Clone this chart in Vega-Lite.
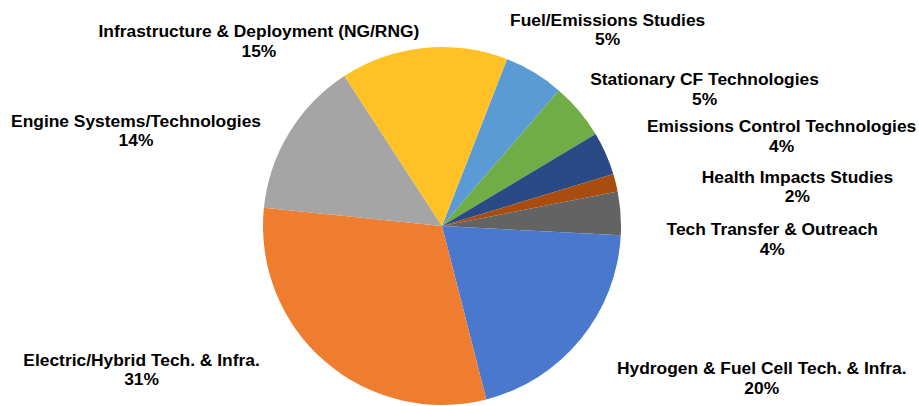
{
  "$schema": "https://vega.github.io/schema/vega-lite/v6.json",
  "autosize": {"type": "none"},
  "width": 884,
  "height": 360,
  "padding": {"left": 0, "top": 46, "right": 35, "bottom": 0},
  "background": "white",
  "view": {"stroke": null},
  "data": {
    "values": [
      {"rank": 1, "category": "Fuel/Emissions Studies", "share": 5.4, "label": "Fuel/Emissions Studies\n5%"},
      {"rank": 2, "category": "Stationary CF Technologies", "share": 5.1, "label": "Stationary CF Technologies\n5%"},
      {"rank": 3, "category": "Emissions Control Technologies", "share": 3.9, "label": "Emissions Control Technologies\n4%"},
      {"rank": 4, "category": "Health Impacts Studies", "share": 1.6, "label": "Health Impacts Studies\n2%"},
      {"rank": 5, "category": "Tech Transfer & Outreach", "share": 3.9, "label": "Tech Transfer & Outreach\n4%"},
      {"rank": 6, "category": "Hydrogen & Fuel Cell Tech. & Infra.", "share": 20.2, "label": "Hydrogen & Fuel Cell Tech. & Infra.\n20%"},
      {"rank": 7, "category": "Electric/Hybrid Tech. & Infra.", "share": 30.6, "label": "Electric/Hybrid Tech. & Infra.\n31%"},
      {"rank": 8, "category": "Engine Systems/Technologies", "share": 14.2, "label": "Engine Systems/Technologies\n14%"},
      {"rank": 9, "category": "Infrastructure & Deployment (NG/RNG)", "share": 15.1, "label": "Infrastructure & Deployment (NG/RNG)\n15%"}
    ]
  },
  "transform": [
    {"stack": "share", "groupby": [], "sort": [{"field": "rank", "order": "ascending"}], "as": ["s0", "s1"]}
  ],
  "encoding": {
    "theta": {"field": "s0", "type": "quantitative", "scale": {"domain": [0, 100], "range": [0.37175, 6.65494]}}
  },
  "layer": [
    {
      "mark": {"type": "arc", "outerRadius": 179},
      "encoding": {
        "theta2": {"field": "s1"},
        "color": {
          "field": "category",
          "type": "nominal",
          "legend": null,
          "scale": {
            "domain": ["Fuel/Emissions Studies", "Stationary CF Technologies", "Emissions Control Technologies", "Health Impacts Studies", "Tech Transfer & Outreach", "Hydrogen & Fuel Cell Tech. & Infra.", "Electric/Hybrid Tech. & Infra.", "Engine Systems/Technologies", "Infrastructure & Deployment (NG/RNG)"],
            "range": ["#5B9BD5", "#70AD47", "#2A4A86", "#A84C10", "#636363", "#4A78CC", "#EF7D30", "#A5A5A5", "#FFC125"]
          }
        }
      }
    },
    {"transform": [{"filter": "datum.rank == 1"}], "mark": {"type": "text", "radius": 200, "dx": 93, "dy": -14, "font": "Liberation Sans", "fontWeight": "bold", "fontSize": 17.4, "lineHeight": 19.5, "lineBreak": "\n", "align": "center", "baseline": "alphabetic", "color": "#000000"}, "encoding": {"text": {"field": "label", "type": "nominal"}}},
    {"transform": [{"filter": "datum.rank == 2"}], "mark": {"type": "text", "radius": 200, "dx": 132, "dy": 11, "font": "Liberation Sans", "fontWeight": "bold", "fontSize": 17.4, "lineHeight": 19.5, "lineBreak": "\n", "align": "center", "baseline": "alphabetic", "color": "#000000"}, "encoding": {"text": {"field": "label", "type": "nominal"}}},
    {"transform": [{"filter": "datum.rank == 3"}], "mark": {"type": "text", "radius": 200, "dx": 168, "dy": 9, "font": "Liberation Sans", "fontWeight": "bold", "fontSize": 17.4, "lineHeight": 19.5, "lineBreak": "\n", "align": "center", "baseline": "alphabetic", "color": "#000000"}, "encoding": {"text": {"field": "label", "type": "nominal"}}},
    {"transform": [{"filter": "datum.rank == 4"}], "mark": {"type": "text", "radius": 200, "dx": 164, "dy": 15, "font": "Liberation Sans", "fontWeight": "bold", "fontSize": 17.4, "lineHeight": 19.5, "lineBreak": "\n", "align": "center", "baseline": "alphabetic", "color": "#000000"}, "encoding": {"text": {"field": "label", "type": "nominal"}}},
    {"transform": [{"filter": "datum.rank == 5"}], "mark": {"type": "text", "radius": 200, "dx": 134, "dy": 48, "font": "Liberation Sans", "fontWeight": "bold", "fontSize": 17.4, "lineHeight": 19.5, "lineBreak": "\n", "align": "center", "baseline": "alphabetic", "color": "#000000"}, "encoding": {"text": {"field": "label", "type": "nominal"}}},
    {"transform": [{"filter": "datum.rank == 6"}], "mark": {"type": "text", "radius": 200, "dx": 120, "dy": 138, "font": "Liberation Sans", "fontWeight": "bold", "fontSize": 17.4, "lineHeight": 19.5, "lineBreak": "\n", "align": "center", "baseline": "alphabetic", "color": "#000000"}, "encoding": {"text": {"field": "label", "type": "nominal"}}},
    {"transform": [{"filter": "datum.rank == 7"}], "mark": {"type": "text", "radius": 200, "dx": -350, "dy": -54, "font": "Liberation Sans", "fontWeight": "bold", "fontSize": 17.4, "lineHeight": 19.5, "lineBreak": "\n", "align": "center", "baseline": "alphabetic", "color": "#000000"}, "encoding": {"text": {"field": "label", "type": "nominal"}}},
    {"transform": [{"filter": "datum.rank == 8"}], "mark": {"type": "text", "radius": 200, "dx": -107, "dy": -79, "font": "Liberation Sans", "fontWeight": "bold", "fontSize": 17.4, "lineHeight": 19.5, "lineBreak": "\n", "align": "center", "baseline": "alphabetic", "color": "#000000"}, "encoding": {"text": {"field": "label", "type": "nominal"}}},
    {"transform": [{"filter": "datum.rank == 9"}], "mark": {"type": "text", "radius": 200, "dx": -74, "dy": -21, "font": "Liberation Sans", "fontWeight": "bold", "fontSize": 17.4, "lineHeight": 19.5, "lineBreak": "\n", "align": "center", "baseline": "alphabetic", "color": "#000000"}, "encoding": {"text": {"field": "label", "type": "nominal"}}}
  ]
}
